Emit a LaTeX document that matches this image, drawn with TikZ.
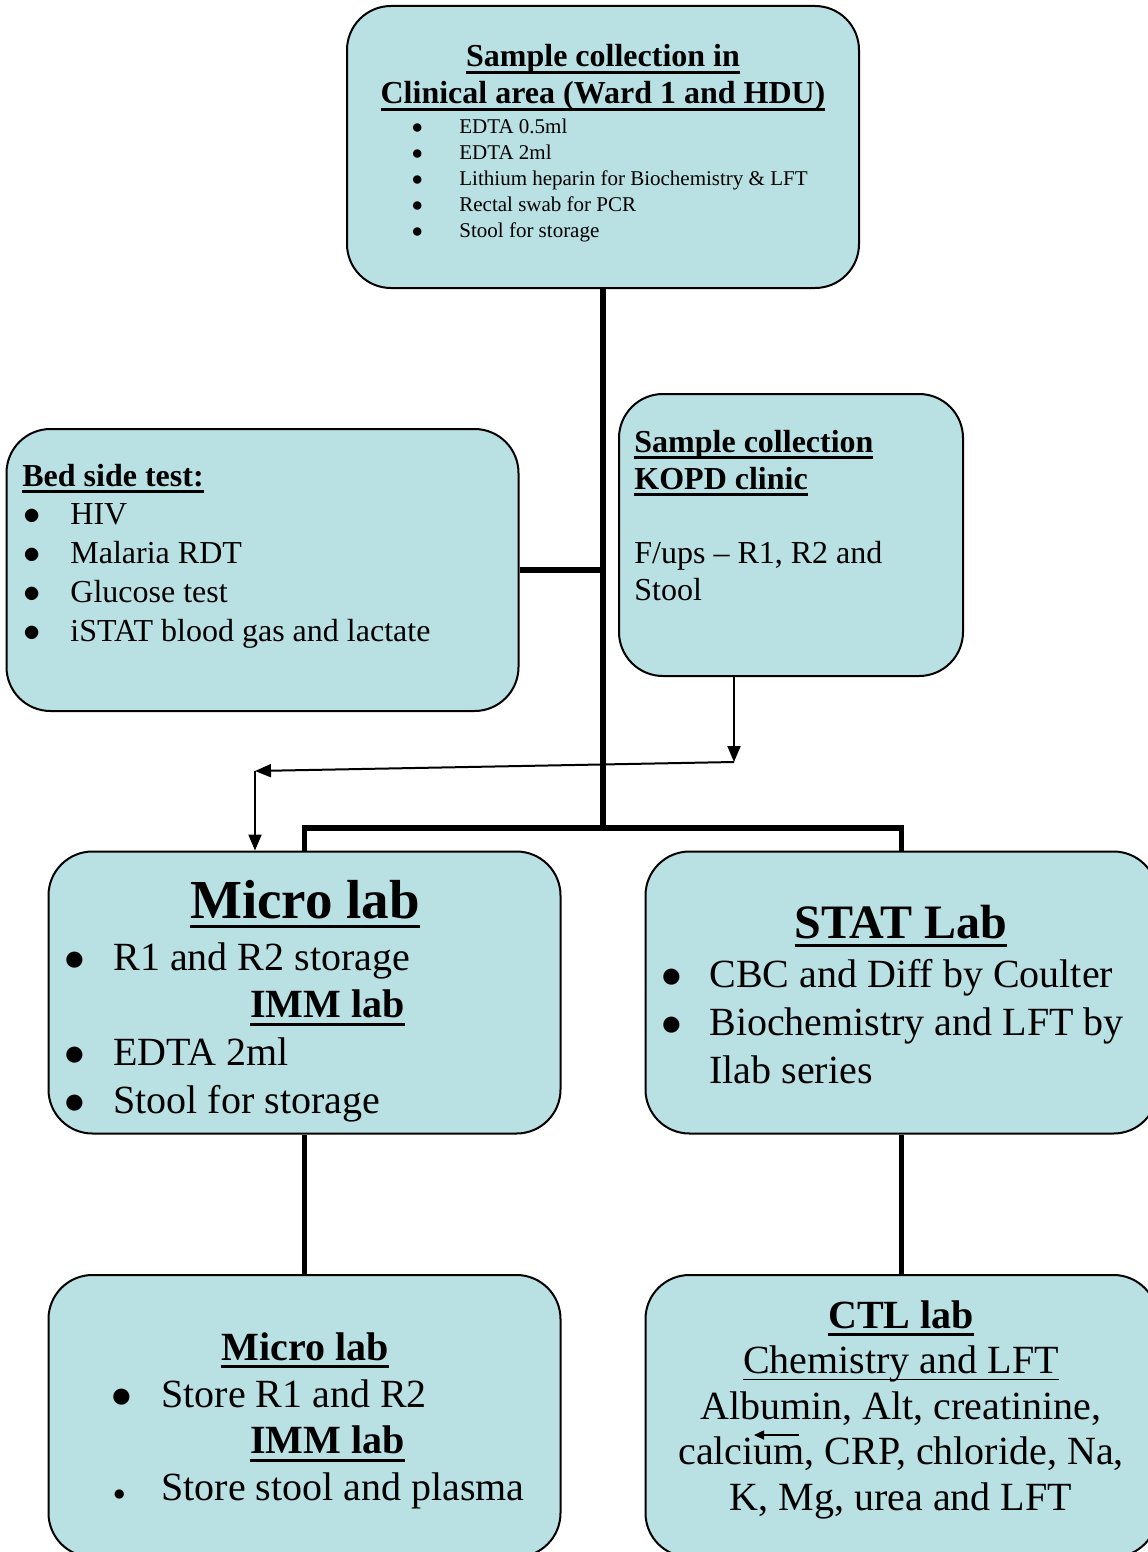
\documentclass[tikz,border=0pt]{standalone}
\usepackage{fontspec}
\setmainfont{Liberation Serif}
\usetikzlibrary{arrows.meta}

\definecolor{boxfill}{RGB}{185,224,227}
\newcommand{\ulx}[2]{\leavevmode\setbox0\hbox{#2}%
  \rlap{\vrule width\wd0 height-0.13em depth\dimexpr0.13em+#1\relax}\box0}
\newcommand{\hd}[1]{{\bfseries\ulx{1.4pt}{#1}}}
\newcommand{\subhd}[1]{\ulx{0.8pt}{#1}}
\newcommand{\bul}[1]{\makebox[#1][l]{$\bullet$}}

\begin{document}
\begin{tikzpicture}[
  x=0.5pt,
  y=-0.5pt,
  labbox/.style={
    draw=black,
    fill=boxfill,
    line width=1pt,
    rounded corners=22pt,
    inner sep=0pt
  },
  wide/.style={labbox, minimum width=256pt, minimum height=141pt},
  narrow/.style={labbox, minimum width=172pt, minimum height=141pt},
  txt/.style={inner sep=0pt, align=left, anchor=base west},
  ctr/.style={inner sep=0pt, align=center, anchor=base},
  small/.style={font=\fontsize{10.5pt}{13pt}\selectfont},
  mid/.style={font=\fontsize{16pt}{18.5pt}\selectfont},
  big/.style={font=\fontsize{20pt}{23.5pt}\selectfont},
  trunk/.style={line width=3pt},
  branch/.style={line width=2.6pt},
  feed/.style={line width=1pt, -{Triangle[length=8pt, width=6.5pt]}}
]

\useasboundingbox (0,0) rectangle (1147,1552);

% boxes
\node[wide] (clin) at (603,147) {};
\node[wide] (bed) at (262.5,570) {};
\node[narrow] (kopd) at (791,535) {};
\node[wide] (micro) at (304.5,992.5) {};
\node[wide] (stat) at (901.5,992.5) {};
\node[wide] (store) at (304.5,1416) {};
\node[wide] (ctl) at (901.5,1416) {};

% thick links
\coordinate (split) at (603,828);
\draw[trunk] (clin.south) -- (split);
\draw[branch] (bed.east) -- (bed.east -| clin.south);
\draw[branch, line join=miter] (micro.north) |- (split) -| (stat.north);
\draw[branch] (micro.south) -- (store.north);
\draw[branch] (stat.south) -- (ctl.north);

% clinic samples go round to the micro lab
\coordinate (turn) at (734,762);
\coordinate (drop) at (255,771);
\draw[feed] (kopd.south -| turn) -- (turn);
\draw[feed] (turn) -- (drop);
\draw[feed] (drop) -- (drop |- micro.north);

% texts (anchored on the baseline of their last line)
\node[ctr, mid] (clintitle) at (603,104)
  {\hd{Sample collection in}\\\hd{Clinical area (Ward 1 and HDU)}};
\node[txt, small] (clinlist) at (411.5,237)
  {\bul{23.75pt}EDTA 0.5ml\\\bul{23.75pt}EDTA 2ml\\
   \bul{23.75pt}Lithium heparin for Biochemistry \& LFT\\
   \bul{23.75pt}Rectal swab for PCR\\\bul{23.75pt}Stool for storage};

\node[txt, mid] (bedtitle) at (22,486) {\hd{Bed side test:}};
\node[txt, font=\fontsize{16pt}{19.5pt}\selectfont] (bedlist) at (23,641)
  {\bul{23.5pt}HIV\\\bul{23.5pt}Malaria RDT\\\bul{23.5pt}Glucose test\\
   \bul{23.5pt}iSTAT blood gas and lactate};

\node[txt, mid] (kopdtext) at (634,600)
  {\hd{Sample collection}\\\hd{KOPD clinic}\\[18.5pt]F/ups -- R1, R2 and\\Stool};

\node[ctr, font=\fontsize{27.5pt}{30pt}\selectfont] (microtitle) at (305,918)
  {\hd{Micro lab}};
\node[txt, font=\fontsize{20pt}{23.8pt}\selectfont] (microlist) at (64,1113)
  {\bul{24.5pt}R1 and R2 storage\\\hspace*{93pt}\hd{IMM lab}\\
   \bul{24.5pt}EDTA 2ml\\\bul{24.5pt}Stool for storage};

\node[ctr, font=\fontsize{24pt}{28pt}\selectfont] (stattitle) at (901,938)
  {\hd{STAT Lab}};
\node[txt, font=\fontsize{20pt}{24pt}\selectfont] (statlist) at (661,1083)
  {\bul{24pt}CBC and Diff by Coulter\\\bul{24pt}Biochemistry and LFT by\\
   \hspace*{24pt}Ilab series};

\node[ctr, big] (storetitle) at (305,1360) {\hd{Micro lab}};
\node[txt, font=\fontsize{20pt}{23.25pt}\selectfont] (storelist) at (111,1500)
  {\bul{25pt}Store R1 and R2\\\hspace*{69.5pt}\hd{IMM lab}\\
   \makebox[25pt][l]{\fontsize{12pt}{12pt}\selectfont\hspace{1pt}$\bullet$}Store stool and plasma};

\node[ctr, font=\fontsize{20pt}{22.75pt}\selectfont] (ctltext) at (901,1510)
  {\hd{CTL lab}\\\subhd{Chemistry and LFT}\\Albumin, Alt, creatinine,\\
   calcium, CRP, chloride, Na,\\K, Mg, urea and LFT};
\coordinate (stray) at (799,1435);
\draw[line width=0.8pt, -{Triangle[length=5pt, width=4.5pt]}] (stray) -- ++(-45,0);

\end{tikzpicture}
\end{document}
